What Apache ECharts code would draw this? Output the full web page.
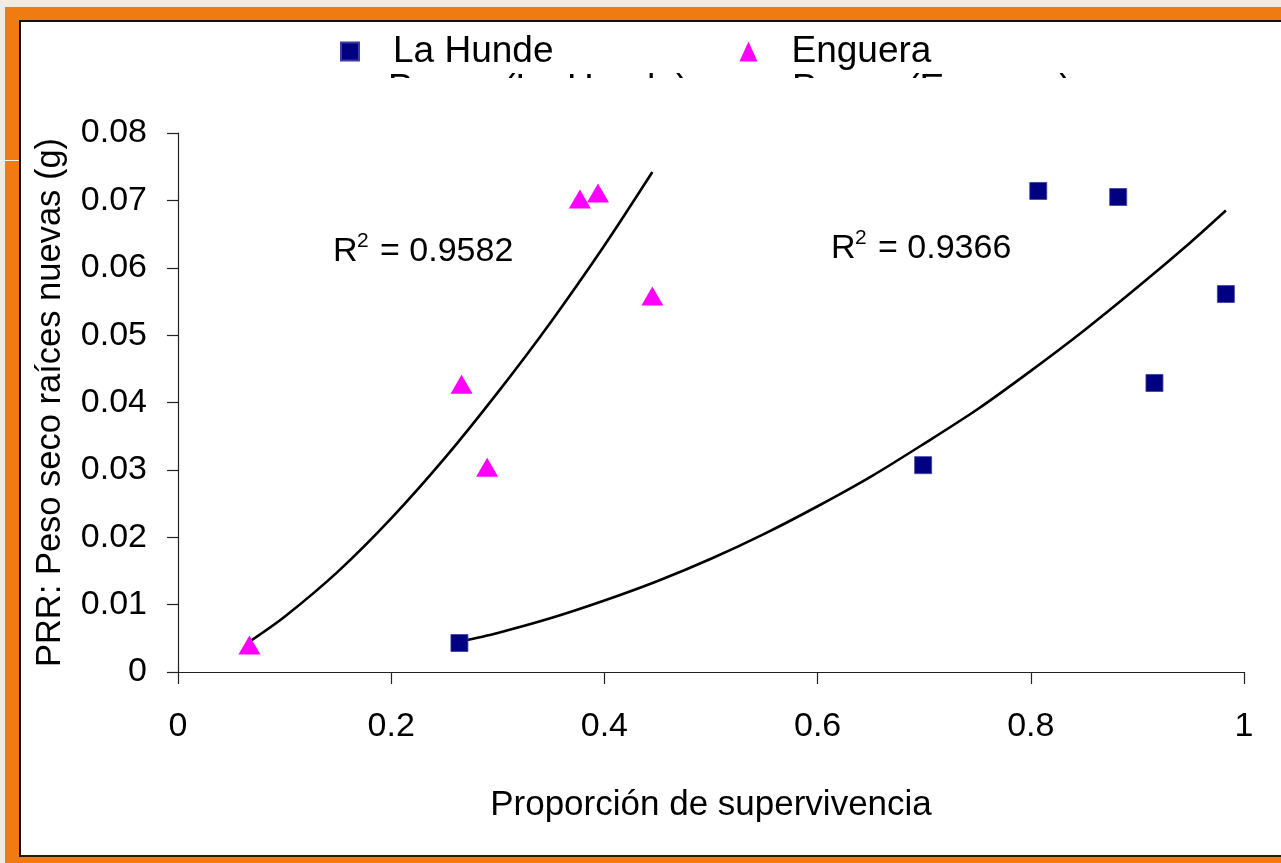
<!DOCTYPE html>
<html>
<head>
<meta charset="utf-8">
<script src="https://cdn.jsdelivr.net/npm/echarts@6/dist/echarts.min.js"></script>
<style>
  html, body { margin: 0; padding: 0; width: 1281px; height: 863px; overflow: hidden; background: #EEEAE4; }
  #frame { position: absolute; left: 5px; top: 7px; width: 1276px; height: 856px; background: #EF7B12; }
  #panel { position: absolute; left: 19px; top: 20px; width: 1270px; height: 833px; background: #fff;
           border-left: 2px solid #111; border-top: 2px solid #111; border-bottom: 2px solid #2a1a0a; }
  #tick { position: absolute; left: 0px; top: 160px; width: 19px; height: 1px; background: #f6f2ee; }
  #chart { position: absolute; left: 0; top: 0; width: 1281px; height: 863px; }
</style>
</head>
<body>
<div id="frame"></div>
<div id="panel"></div>
<div id="tick"></div>
<div id="chart"></div>
<script>
// ---- data ----
const seriesNames = ['La Hunde', 'Enguera'];
const laHundeX = [0.264, 0.699, 0.807, 0.882, 0.916, 0.983];
const laHundeY = [0.0043, 0.0307, 0.0714, 0.0705, 0.0429, 0.0561];
const engueraX = [0.067, 0.266, 0.290, 0.377, 0.394, 0.445];
const engueraY = [0.0040, 0.0427, 0.0304, 0.0702, 0.0711, 0.0558];
// power trendlines
const trendHundeX = [0.264, 0.30, 0.35, 0.40, 0.45, 0.50, 0.55, 0.60, 0.65, 0.70, 0.75, 0.80, 0.85, 0.90, 0.95, 0.983];
const trendHundeY = [0.0045, 0.0058, 0.0080, 0.0106, 0.0135, 0.0168, 0.0205, 0.0246, 0.0290, 0.0339, 0.0390, 0.0447, 0.0507, 0.0571, 0.0638, 0.0685];
const trendEngX = [0.067, 0.10, 0.15, 0.20, 0.25, 0.30, 0.35, 0.40, 0.445];
const trendEngY = [0.0045, 0.0082, 0.0149, 0.0228, 0.0317, 0.0415, 0.0520, 0.0633, 0.0742];
const xTicks = ['0', '0.2', '0.4', '0.6', '0.8', '1'];
const yTicks = ['0', '0.01', '0.02', '0.03', '0.04', '0.05', '0.06', '0.07', '0.08'];
const r2Labels = ['0.9582', '0.9366'];
const trendNames = ['Power (La Hunde)', 'Power (Enguera)'];

const FONT = '"Liberation Sans", Arial, sans-serif';
const zip = (xs, ys) => xs.map((x, i) => [x, ys[i]]);

function r2Group(left, top, value) {
  return {
    type: 'group', left: left, top: top, z: 5,
    children: [
      { type: 'text', x: 0, y: 4, style: { text: 'R', font: '34px ' + FONT, fill: '#000' } },
      { type: 'text', x: 24, y: 0, style: { text: '2', font: '21px ' + FONT, fill: '#000' } },
      { type: 'text', x: 47, y: 4, style: { text: '= ' + value, font: '34px ' + FONT, fill: '#000' } }
    ]
  };
}

const chart = echarts.init(document.getElementById('chart'), null, { renderer: 'canvas' });

const option = {
  backgroundColor: 'transparent',
  animation: false,
  textStyle: { fontFamily: FONT },
  grid: { left: 178, right: 37, top: 133, bottom: 191, containLabel: false },
  legend: {
    data: [
      { name: seriesNames[0], icon: 'path://M0,0 L10,0 L10,10 L0,10 Z' },
      { name: seriesNames[1], icon: 'triangle' }
    ],
    left: 335, top: 28, padding: 5, symbolKeepAspect: true,
    itemWidth: 18, itemHeight: 20, itemGap: 186,
    textStyle: { fontSize: 37, color: '#000', fontFamily: FONT, padding: [0, 0, 0, 29] },
    selectedMode: false
  },
  xAxis: {
    type: 'value', min: 0, max: 1, interval: 0.2,
    name: 'Proporción de supervivencia', nameLocation: 'middle', nameGap: 116,
    nameTextStyle: { fontSize: 35, color: '#000', fontFamily: FONT },
    axisLine: { show: true, onZero: false, lineStyle: { color: '#222', width: 1.2 } },
    axisTick: { show: true, length: 12, lineStyle: { color: '#222', width: 1.2 } },
    axisLabel: { fontSize: 34, color: '#000', margin: 38, fontFamily: FONT,
      formatter: v => xTicks[Math.round(v / 0.2)] },
    splitLine: { show: false }
  },
  yAxis: {
    type: 'value', min: 0, max: 0.08, interval: 0.01,
    name: 'PRR: Peso seco raíces nuevas (g)', nameLocation: 'middle', nameGap: 110,
    nameTextStyle: { fontSize: 34.5, color: '#000', fontFamily: FONT },
    axisLine: { show: true, onZero: false, lineStyle: { color: '#222', width: 1.2 } },
    axisTick: { show: true, length: 11, lineStyle: { color: '#222', width: 1.2 } },
    axisLabel: { fontSize: 34, color: '#000', margin: 31, fontFamily: FONT,
      formatter: v => yTicks[Math.round(v / 0.01)] },
    splitLine: { show: false }
  },
  series: [
    {
      name: trendNames[0], type: 'line', data: zip(trendHundeX, trendHundeY),
      showSymbol: false, symbol: 'none', smooth: 0.3, z: 3,
      lineStyle: { color: '#000', width: 2.6 }, silent: true
    },
    {
      name: trendNames[1], type: 'line', data: zip(trendEngX, trendEngY),
      showSymbol: false, symbol: 'none', smooth: 0.3, z: 3,
      lineStyle: { color: '#000', width: 2.6 }, silent: true
    },
    {
      name: seriesNames[0], type: 'scatter', data: zip(laHundeX, laHundeY),
      symbol: 'rect', symbolSize: 17, z: 4,
      itemStyle: { color: '#000080', borderColor: '#3c3ca0', borderWidth: 0.8, opacity: 1 }
    },
    {
      name: seriesNames[1], type: 'scatter', data: zip(engueraX, engueraY),
      symbol: 'triangle', symbolSize: [22, 19], z: 4,
      itemStyle: { color: '#FF00FF', opacity: 1 }
    }
  ],
  graphic: [
    // clipped second legend row (trendline entries)
    { type: 'text', left: 388, top: 71, z: 1,
      style: { text: trendNames[0], font: '37px ' + FONT, fill: '#000' } },
    { type: 'text', left: 792, top: 71, z: 1,
      style: { text: trendNames[1], font: '37px ' + FONT, fill: '#000' } },
    { type: 'rect', left: 300, top: 78, z: 2,
      shape: { width: 900, height: 45 }, style: { fill: '#fff' } },
    // R² annotations
    r2Group(333, 231, r2Labels[0]),
    r2Group(831, 228, r2Labels[1])
  ]
};
chart.setOption(option);
</script>
</body>
</html>
